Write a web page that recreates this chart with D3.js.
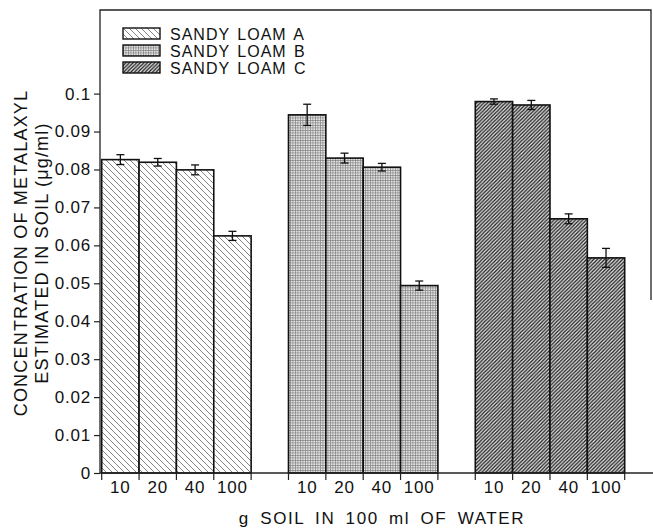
<!DOCTYPE html>
<html>
<head>
<meta charset="utf-8">
<script src="https://cdn.jsdelivr.net/npm/d3@7"></script>
<style>
  body { margin: 0; background: #fff; }
  svg text { font-family: "Liberation Sans", Arial, sans-serif; fill: #111; }
</style>
</head>
<body>
<div id="chart"></div>
<script>
// soil amounts (g in 100 ml water)
var doses = ["10", "20", "40", "100"];
var soils = ["SANDY LOAM A", "SANDY LOAM B", "SANDY LOAM C"];
var soilKeys = ["A", "B", "C"];

// metalaxyl estimated (ug/ml) and error
var valuesA = [0.0826, 0.0819, 0.0799, 0.0625];
var valuesB = [0.0944, 0.0830, 0.0806, 0.0494];
var valuesC = [0.0979, 0.0970, 0.0670, 0.0567];
var errA = [0.0013, 0.0010, 0.0013, 0.0012];
var errB = [0.0028, 0.0013, 0.0010, 0.0012];
var errC = [0.0007, 0.0012, 0.0013, 0.0025];

var yTicks = [0, 0.01, 0.02, 0.03, 0.04, 0.05, 0.06, 0.07, 0.08, 0.09, 0.1];

var allValues = [valuesA, valuesB, valuesC];
var allErr = [errA, errB, errC];

var dataset = [];
for (var s = 0; s < soilKeys.length; s++) {
    for (var d = 0; d < doses.length; d++) {
        dataset.push({
            soil: soilKeys[s],
            dose: doses[d],
            slot: soilKeys[s] + doses[d],
            value: allValues[s][d],
            err: allErr[s][d]
        });
    }
}

// slots: 4 bars per soil, one empty slot between groups
var slots = [];
soilKeys.forEach(function(k, i) {
    doses.forEach(function(d) { slots.push(k + d); });
    if (i < soilKeys.length - 1) slots.push("gap" + k);
});

var w = 653, h = 528;
var x0 = 101.7, x1 = 624.7, yTop = 10, yBase = 473;

var xScale = d3.scaleBand().domain(slots).range([x0, x1]).padding(0);
var yScale = d3.scaleLinear().domain([0, 0.1]).range([yBase, 93.6]);

var svg = d3.select("#chart").append("svg")
    .attr("width", w)
    .attr("height", h);

var defs = svg.append("defs");

// A: sparse "\" hatching
var pA = defs.append("pattern").attr("id", "patA")
    .attr("patternUnits", "userSpaceOnUse").attr("width", 6).attr("height", 6);
pA.append("rect").attr("width", 6).attr("height", 6).attr("fill", "#fff");
pA.append("path").attr("d", "M0,0L6,6M-1,5L1,7M5,-1L7,1")
    .attr("stroke", "#666").attr("stroke-width", 0.8);

// B: fine grid stipple
var pB = defs.append("pattern").attr("id", "patB")
    .attr("patternUnits", "userSpaceOnUse").attr("width", 2.5).attr("height", 2.5);
pB.append("rect").attr("width", 2.5).attr("height", 2.5).attr("fill", "#e4e4e4");
pB.append("path").attr("d", "M0,0.3H2.5M0.3,0V2.5")
    .attr("stroke", "#777").attr("stroke-width", 0.7);

// C: dense "/" hatching
var pC = defs.append("pattern").attr("id", "patC")
    .attr("patternUnits", "userSpaceOnUse").attr("width", 3.6).attr("height", 3.6);
pC.append("rect").attr("width", 3.6).attr("height", 3.6).attr("fill", "#eee");
pC.append("path").attr("d", "M0,3.6L3.6,0M-1,1L1,-1M2.6,4.6L4.6,2.6")
    .attr("stroke", "#222").attr("stroke-width", 1.4);

var fills = { A: "url(#patA)", B: "url(#patB)", C: "url(#patC)" };

// frame
svg.append("path")
    .attr("d", "M100," + yBase + "V" + yTop + "H651V300")
    .attr("fill", "none").attr("stroke", "#222").attr("stroke-width", 1.3);

// bars
svg.selectAll("rect.bar")
    .data(dataset)
    .enter().append("rect")
    .attr("class", "bar")
    .attr("x", function(d) { return xScale(d.slot); })
    .attr("y", function(d) { return yScale(d.value); })
    .attr("width", xScale.bandwidth())
    .attr("height", function(d) { return yBase - yScale(d.value); })
    .attr("fill", function(d) { return fills[d.soil]; })
    .attr("stroke", "#111")
    .attr("stroke-width", 1.6);

// error bars
var eb = svg.selectAll("g.err")
    .data(dataset)
    .enter().append("g")
    .attr("class", "err")
    .attr("stroke", "#111")
    .attr("stroke-width", 1.3);

function cx(d) { return xScale(d.slot) + xScale.bandwidth() / 2; }

eb.append("line")
    .attr("x1", cx).attr("x2", cx)
    .attr("y1", function(d) { return yScale(d.value + d.err); })
    .attr("y2", function(d) { return yScale(d.value - d.err); });
eb.append("line")
    .attr("x1", function(d) { return cx(d) - 4; }).attr("x2", function(d) { return cx(d) + 4; })
    .attr("y1", function(d) { return yScale(d.value + d.err); })
    .attr("y2", function(d) { return yScale(d.value + d.err); });
eb.append("line")
    .attr("x1", function(d) { return cx(d) - 4; }).attr("x2", function(d) { return cx(d) + 4; })
    .attr("y1", function(d) { return yScale(d.value - d.err); })
    .attr("y2", function(d) { return yScale(d.value - d.err); });

// y axis
var yAxis = d3.axisLeft(yScale)
    .tickValues(yTicks)
    .tickSize(6)
    .tickPadding(3)
    .tickFormat(function(d) { return d === 0 ? "0" : d3.format(".2~f")(d); });

var gy = svg.append("g")
    .attr("transform", "translate(100,0)")
    .call(yAxis);
gy.select(".domain").remove();
gy.selectAll(".tick line").attr("stroke", "#222").attr("stroke-width", 1.2);
gy.selectAll(".tick text")
    .attr("font-size", 17)
    .attr("letter-spacing", 0.8)
    .attr("fill", "#111");

// x axis line
svg.append("line")
    .attr("x1", 100).attr("x2", 653)
    .attr("y1", yBase).attr("y2", yBase)
    .attr("stroke", "#222").attr("stroke-width", 1.3);

// x ticks at bar edges and labels
var edges = [];
dataset.forEach(function(d, i) {
    edges.push(xScale(d.slot));
    if (i % 4 === 3) edges.push(xScale(d.slot) + xScale.bandwidth());
});
svg.selectAll("line.xtick")
    .data(edges)
    .enter().append("line")
    .attr("class", "xtick")
    .attr("x1", function(d) { return d; }).attr("x2", function(d) { return d; })
    .attr("y1", yBase).attr("y2", yBase + 7)
    .attr("stroke", "#222").attr("stroke-width", 1.2);

svg.selectAll("text.xlab")
    .data(dataset)
    .enter().append("text")
    .attr("class", "xlab")
    .attr("x", cx)
    .attr("y", 493)
    .attr("text-anchor", "middle")
    .attr("font-size", 17)
    .attr("letter-spacing", 0.8)
    .text(function(d) { return d.dose; });

// axis titles
svg.append("text")
    .attr("x", 382).attr("y", 524)
    .attr("text-anchor", "middle")
    .attr("font-size", 17)
    .attr("letter-spacing", 1.6)
    .attr("word-spacing", 4)
    .text("g SOIL IN 100 ml OF WATER");

var yl = svg.append("text")
    .attr("transform", "translate(0,253) rotate(-90)")
    .attr("text-anchor", "middle")
    .attr("font-size", 18)
    .attr("letter-spacing", 1.2);
yl.append("tspan").attr("x", 0).attr("y", 27).text("CONCENTRATION OF METALAXYL");
yl.append("tspan").attr("x", 0).attr("y", 48).text("ESTIMATED IN SOIL (\u03bcg/ml)");

// legend
var lg = svg.selectAll("g.legend")
    .data(soils)
    .enter().append("g")
    .attr("class", "legend")
    .attr("transform", function(d, i) { return "translate(123," + (28 + i * 17) + ")"; });
lg.append("rect")
    .attr("width", 37).attr("height", 11)
    .attr("fill", function(d, i) { return fills[soilKeys[i]]; })
    .attr("stroke", "#111").attr("stroke-width", 1.4);
lg.append("text")
    .attr("x", 47).attr("y", 11.5)
    .attr("font-size", 16)
    .attr("letter-spacing", 1)
    .attr("word-spacing", 2)
    .text(function(d) { return d; });
</script>
</body>
</html>
